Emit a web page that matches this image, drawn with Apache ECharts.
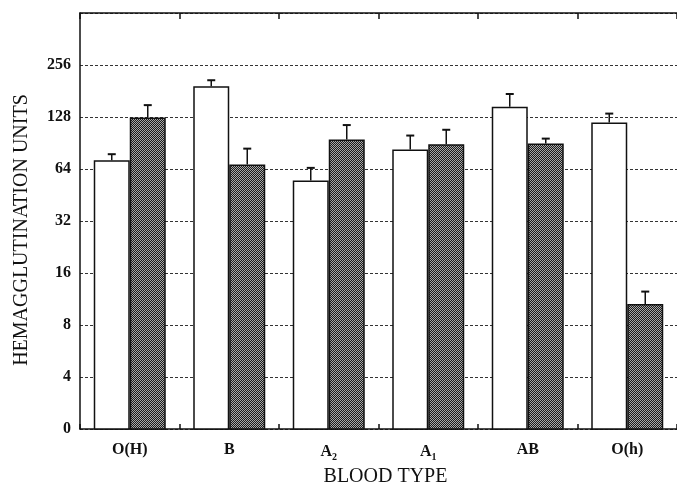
<!DOCTYPE html>
<html>
<head>
<meta charset="utf-8">
<script src="https://cdn.jsdelivr.net/npm/echarts@6/dist/echarts.min.js"></script>
<style>
html,body{margin:0;padding:0;background:#fff;}
#c{width:677px;height:492px;}
</style>
</head>
<body>
<div id="c"></div>
<script>
const categories = ['O(H)', 'B', 'A{sub|2}', 'A{sub|1}', 'AB', 'O(h)'];
const whiteValues = [72, 193, 55, 83, 147, 119];
const whiteErrTop = [78, 209, 65, 100, 174, 134];
const darkValues  = [127, 68, 95, 89, 90, 10.6];
const darkErrTop  = [150, 84, 115, 108, 96, 12.5];
const yTickLabels = {2:'0', 4:'4', 8:'8', 16:'16', 32:'32', 64:'64', 128:'128', 256:'256', 512:''};

const BAR_W = 36;
const FONT = '"Liberation Serif", "DejaVu Serif", serif';

// stipple (checker) pattern for dark bars
const pc = document.createElement('canvas');
pc.width = 2; pc.height = 2;
const px = pc.getContext('2d');
px.fillStyle = '#1c1c1c'; px.fillRect(0,0,2,2);
px.fillStyle = '#a8a8a8';
px.fillRect(0,0,1,1); px.fillRect(1,1,1,1);

function errSeries(vals, tops, sign){
  return {
    type: 'custom',
    data: vals.map((v,i)=>[i, v, tops[i]]),
    encode: {x:0, y:[1,2]},
    z: 5,
    silent: true,
    renderItem: function(params, api){
      const b = api.coord([api.value(0), api.value(1)]);
      const t = api.coord([api.value(0), api.value(2)]);
      const x = b[0] + sign * BAR_W / 2;
      const st = {stroke:'#111', lineWidth:1.5};
      return {type:'group', children:[
        {type:'line', shape:{x1:x, y1:b[1], x2:x, y2:t[1]}, style:st},
        {type:'line', shape:{x1:x-4, y1:t[1], x2:x+4, y2:t[1]}, style:{stroke:'#111', lineWidth:2}}
      ]};
    }
  };
}

const chart = echarts.init(document.getElementById('c'));
chart.setOption({
  backgroundColor:'#fff',
  animation:false,
  grid:{left:80, top:13, width:605, height:419},
  xAxis:[{
    type:'category',
    data:categories,
    position:'bottom',
    axisLine:{lineStyle:{color:'#111', width:1.5}},
    axisTick:{show:true, inside:true, length:5, lineStyle:{color:'#111', width:1.5}},
    axisLabel:{
      margin:13, color:'#111', fontFamily:FONT, fontWeight:'bold', fontSize:16,
      rich:{sub:{fontSize:10, fontWeight:'bold', fontFamily:FONT, color:'#111', padding:[10,0,0,0]}}
    },
    name:'BLOOD TYPE',
    nameLocation:'middle',
    nameGap:36,
    nameTextStyle:{color:'#111', fontFamily:FONT, fontSize:20, padding:[0,0,0,14]}
  },{
    type:'category',
    data:categories,
    position:'top',
    axisLine:{show:true, lineStyle:{color:'#111', width:1.5}},
    axisTick:{show:true, inside:true, length:6, lineStyle:{color:'#111', width:1.5}},
    axisLabel:{show:false}
  }],
  yAxis:{
    type:'log',
    logBase:2,
    min:2,
    max:512,
    interval:1,
    axisLine:{show:true, lineStyle:{color:'#111', width:1.5}},
    axisTick:{show:false},
    splitLine:{show:true, lineStyle:{color:'#333', width:1, type:[3,2]}},
    axisLabel:{
      margin:9, color:'#111', fontFamily:FONT, fontWeight:'bold', fontSize:16,
      formatter:function(v){ const r=Math.round(v); return yTickLabels[r]!==undefined ? yTickLabels[r] : ''; }
    },
    name:'HEMAGGLUTINATION UNITS',
    nameLocation:'middle',
    nameGap:48,
    nameTextStyle:{color:'#111', fontFamily:FONT, fontSize:20, padding:[0,0,0,-18]}
  },
  series:[
    {
      type:'bar', data:whiteValues, barWidth:BAR_W, barGap:'0%',
      itemStyle:{color:'#fff', borderColor:'#111', borderWidth:1.5},
      clip:true, silent:true
    },
    {
      type:'bar', data:darkValues, barWidth:BAR_W, barGap:'0%',
      itemStyle:{color:{image:pc, repeat:'repeat'}, borderColor:'#111', borderWidth:1.5},
      clip:true, silent:true
    },
    errSeries(whiteValues, whiteErrTop, -1),
    errSeries(darkValues, darkErrTop, 1)
  ]
});
</script>
</body>
</html>
